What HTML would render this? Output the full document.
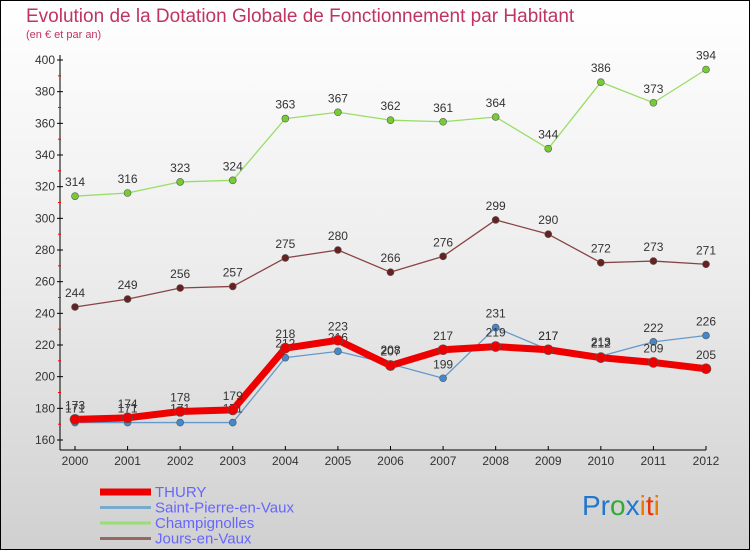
<!DOCTYPE html>
<html><head><meta charset="utf-8">
<style>
body{margin:0;}
#wrap{width:748px;height:548px;border:1px solid #000;position:relative;background:linear-gradient(#fff 0%,#ececec 50%,#d0d0d0 100%);font-family:"Liberation Sans",sans-serif;overflow:hidden}
svg{position:absolute;left:-1px;top:-1px}
</style></head><body>
<div id="wrap">
<svg id="c" width="750" height="550">
<text x="26" y="22" font-size="19" fill="#c0345f">Evolution de la Dotation Globale de Fonctionnement par Habitant</text>
<text x="26" y="38" font-size="11" fill="#c0345f">(en € et par an)</text>
</svg>
</div>
<script>
const years=["2000","2001","2002","2003","2004","2005","2006","2007","2008","2009","2010","2011","2012"];
const yTicks=[160,180,200,220,240,260,280,300,320,340,360,380,400];
const thury=[173,174,178,179,218,223,207,217,219,217,212,209,205];
const saintPierre=[171,171,171,171,212,216,208,199,231,217,213,222,226];
const champignolles=[314,316,323,324,363,367,362,361,364,344,386,373,394];
const jours=[244,249,256,257,275,280,266,276,299,290,272,273,271];
const svg=document.getElementById('c');const NS="http://www.w3.org/2000/svg";
const X=i=>75+i*(706-75)/12;
const Y=v=>440-(v-160)*380/240;
function mk(t,a,p){const e=document.createElementNS(NS,t);for(const k in a)e.setAttribute(k,a[k]);(p||svg).appendChild(e);return e;}
let ax=mk('line',{x1:60,y1:55,x2:60,y2:450,stroke:'#000'});


let bx=mk('line',{x1:60,y1:450,x2:706,y2:450,stroke:'#000'});


yTicks.forEach(v=>{
 mk('line',{x1:57,y1:Y(v),x2:63,y2:Y(v),stroke:'#000'});
 if(v<400) mk('line',{x1:58,y1:Y(v+10),x2:61,y2:Y(v+10),stroke:'#f00'});
 const t=mk('text',{x:55,y:Y(v)+4,'font-size':12,fill:'#333','text-anchor':'end'});t.textContent=v;
 
 
});
years.forEach((y,i)=>{
 mk('line',{x1:X(i),y1:446,x2:X(i),y2:450,stroke:'#000'});
 const t=mk('text',{x:X(i),y:465,'font-size':12,fill:'#333','text-anchor':'middle'});t.textContent=y;
 
 
});
function series(data,color,w,r,fill,name){
 const g=mk('g',{});
 
 
 mk('polyline',{points:data.map((v,i)=>X(i)+','+Y(v)).join(' '),fill:'none',stroke:color,'stroke-width':w,'stroke-linejoin':'round'},g);
 data.forEach((v,i)=>{
  const c=mk('circle',{cx:X(i),cy:Y(v),r:r,fill:fill,stroke:'#555','stroke-width':0.6},g);
  
  
  const t=mk('text',{x:X(i),y:Y(v)-10,'font-size':12,fill:'#333','text-anchor':'middle'},g);t.textContent=v;
 });
}
series(champignolles,'#99dd66',1.3,3.5,'#77cc33','champignolles');
series(jours,'#884444',1.3,3.5,'#662222','jours-en-vaux');
series(saintPierre,'#6699cc',1.3,3.5,'#4488cc','saint-pierre-en-vaux');
series(thury,'#ee0000',7,5,'#ee0000','thury');
const leg=[["THURY","#ee0000",7],["Saint-Pierre-en-Vaux","#77aacc",3],["Champignolles","#99dd77",3],["Jours-en-Vaux","#996666",3]];
leg.forEach((l,i)=>{
 const y=492+i*15.5;
 const g=mk('g',{});
 
 
 mk('line',{x1:100,y1:y,x2:151,y2:y,stroke:l[1],'stroke-width':l[2]},g);
 const t=mk('text',{x:155,y:y+5,'font-size':15,fill:'#6666ff'},g);t.textContent=l[0];
});
const lg=mk('text',{x:582,y:515,'font-size':28});


[["Pr","#2277cc"],["o","#33aa33"],["x","#2277cc"],["i","#ee7700"],["t","#ee3300"],["i","#ee7700"]].forEach(p=>{const s=mk('tspan',{fill:p[1]},lg);s.textContent=p[0];});
</script>
</body></html>
